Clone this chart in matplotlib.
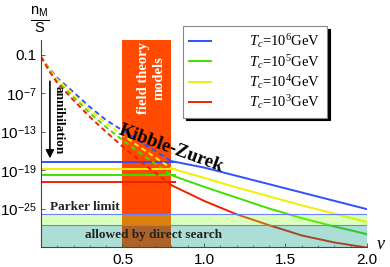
import matplotlib.pyplot as plt

plt.rcParams['mathtext.fontset'] = 'custom'
plt.rcParams['mathtext.rm'] = 'Liberation Serif'
plt.rcParams['mathtext.it'] = 'Liberation Serif:italic'
plt.rcParams['mathtext.bf'] = 'Liberation Serif:bold'
plt.rcParams['mathtext.sf'] = 'Liberation Sans'
plt.rcParams['font.family'] = 'Liberation Sans'

# exponents: log10(n_M / S), series ordered Tc = 10^6, 10^5, 10^4, 10^3 GeV
tc_exp = ['6', '5', '4', '3']
colors = ['#3050ff', '#40e000', '#f0f000', '#f02000']

nu_dash = [0.0, 0.05, 0.1, 0.2, 0.3, 0.4, 0.5, 0.6, 0.7, 0.8]
dash_6 = [-1.3, -3.1, -4.6, -6.85, -9.15, -11.2, -12.8, -14.4, -16.0, -17.6]
dash_5 = [-1.3, -3.3, -5.0, -7.6, -10.1, -12.3, -14.3, -16.2, -18.0, -19.8]
dash_4 = [-1.3, -3.2, -4.8, -7.2, -9.6, -11.7, -13.5, -15.3, -17.0, -18.75]
dash_3 = [-1.3, -3.5, -5.4, -8.1, -10.7, -13.05, -15.3, -17.4, -19.4, -21.35]

nu_solid = [0.8, 1.0, 1.2, 1.4, 1.6, 1.8, 2.0]
solid_6 = [-17.6, -18.6, -19.9, -21.2, -22.5, -23.8, -25.1]
solid_5 = [-19.8, -21.6, -23.3, -25.0, -26.5, -27.8, -29.0]
solid_4 = [-18.75, -20.2, -21.7, -23.1, -24.5, -25.8, -27.1]
solid_3 = [-21.35, -23.8, -25.9, -27.6, -29.2, -30.3, -31.1]

plateau = [-17.8, -19.75, -18.8, -20.8]
plateau_end = 0.82

parker = [-27.5, -25.8]
direct = [-31.2, -27.5]
field_models = [0.5, 0.8]

ytick_exp = [-1, -7, -13, -19, -25]
ytick_labels = ['0.1', r'10$^{\mathsf{-7}}$', r'10$^{\mathsf{-13}}$',
                r'10$^{\mathsf{-19}}$', r'10$^{\mathsf{-25}}$']
xticks = [0.5, 1.0, 1.5, 2.0]

fig = plt.figure(figsize=(3.9, 2.67), dpi=100)
ax = fig.add_axes([0.105, 0.075, 0.836, 0.775])
ax.set_yscale('log')
ax.set_xlim(0, 2.0)
ax.set_ylim(10.0 ** -31.0, 10.0 ** 1.3)

# field theory band
ax.axvspan(field_models[0], field_models[1], color='#ff4a00', lw=0, zorder=1)

handles = []
for d, s, p, c, e in zip([dash_6, dash_5, dash_4, dash_3],
                         [solid_6, solid_5, solid_4, solid_3], plateau, colors, tc_exp):
    ax.plot(nu_dash, [10.0 ** v for v in d], color=c, lw=1.4, dashes=(2.6, 1.8), zorder=3)
    h, = ax.plot(nu_solid, [10.0 ** v for v in s], color=c, lw=1.4, zorder=3,
                 label=r'$T_c$=10$^{%s}$GeV' % e)
    ax.plot([0, plateau_end], [10.0 ** p] * 2, color=c, lw=1.4, zorder=3)
    handles.append(h)

# parker / direct search bands, drawn on top with transparency
ax.axhspan(10.0 ** parker[0], 10.0 ** parker[1], color='#8aff26', alpha=0.3, lw=0, zorder=4)
ax.axhspan(10.0 ** direct[0], 10.0 ** direct[1], color='#00997f', alpha=0.32, lw=0, zorder=4)
for v in parker:
    ax.axhline(10.0 ** v, color='#6f80ff', lw=0.8, zorder=4)

ax.spines['top'].set_visible(False)
ax.spines['right'].set_visible(False)
for sp in ['left', 'bottom']:
    ax.spines[sp].set_color('#444444')
    ax.spines[sp].set_linewidth(0.8)
    ax.spines[sp].set_zorder(5)

ax.set_yticks([10.0 ** v for v in ytick_exp])
ax.set_yticklabels(ytick_labels)
ax.yaxis.set_minor_locator(plt.NullLocator())
ax.set_xticks(xticks)
ax.set_xticklabels(['%.1f' % v for v in xticks])
ax.set_xticks([i / 10 for i in range(1, 20)], minor=True)
ax.tick_params(direction='in', length=3, width=0.6, colors='#444444',
               labelcolor='black', pad=4)
ax.tick_params(axis='y', labelsize=11, pad=3)
ax.tick_params(axis='x', labelsize=11)
ax.tick_params(which='minor', direction='in', length=1.5, width=0.5, colors='#444444')

leg = fig.legend(handles=handles, loc='upper left', bbox_to_anchor=(0.469, 0.903),
                 borderaxespad=0, fancybox=False, shadow={'color': 'black', 'alpha': 1},
                 edgecolor='#888888', framealpha=1, handlelength=1.5, handletextpad=2.6,
                 borderpad=0.45, labelspacing=0.15,
                 prop={'family': 'Liberation Serif', 'size': 10.5})
leg.get_frame().set_linewidth(0.8)

# annotations
fig.text(40 / 390, 1 - 20 / 267, r'$\frac{\mathsf{n}_{\mathsf{M}}}{\mathsf{S}}$',
         fontsize=15, ha='center', va='center')
fig.text(381 / 390, 1 - 244 / 267, r'$\nu$', fontsize=13, ha='center', va='center',
         family='DejaVu Sans')
ax.text(0.675, 10.0 ** -4.7, 'field theory\nmodels', rotation=90, color='white',
        fontsize=10.5, fontweight='bold', family='Liberation Serif',
        ha='center', va='center', linespacing=1.25, zorder=6)
ax.text(0.80, 10.0 ** -15.6, 'Kibble-Zurek', rotation=-20, fontsize=13.5,
        fontweight='bold', family='Liberation Serif', ha='center', va='center',
        rotation_mode='anchor', zorder=6)
ax.text(0.11, 10.0 ** -11.2, 'annihilation', rotation=-90, fontsize=9.5,
        fontweight='bold', family='Liberation Serif', ha='center', va='center', zorder=6)
ax.annotate('', xy=(0.055, 10.0 ** -17.6), xytext=(0.055, 10.0 ** -4.7),
            arrowprops=dict(arrowstyle='-|>', color='black', lw=1.2,
                            mutation_scale=12), zorder=6)
ax.text(0.055, 10.0 ** -24.8, 'Parker limit', fontsize=9.5, fontweight='bold',
        family='Liberation Serif', color='#222222', ha='left', va='center', zorder=6)
ax.text(0.69, 10.0 ** -29.1, 'allowed by direct search', fontsize=9.5,
        fontweight='bold', family='Liberation Serif', color='#222222',
        ha='center', va='center', zorder=6)

fig.savefig('out.png', dpi=100)
